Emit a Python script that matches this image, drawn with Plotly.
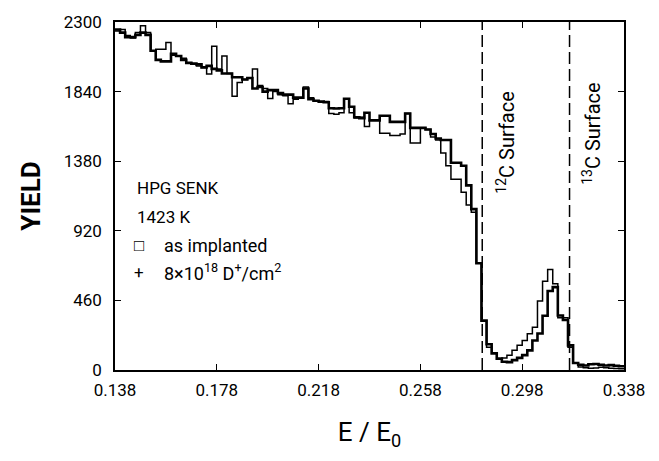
import plotly.graph_objects as go

# bin layout: 100 bins of width 0.002 from 0.138 to 0.338
x_start = 0.138
bin_width = 0.002

as_implanted = [
    2240, 2250, 2210, 2195, 2230, 2275, 2230, 2110, 2120, 2120,
    2165, 2080, 2075, 2060, 2030, 2020, 2010, 2000, 1956, 2140,
    1990, 2075, 1960, 1810, 1900, 1920, 1930, 1990, 1880, 1860,
    1795, 1840, 1820, 1812, 1760, 1790, 1800, 1870, 1800, 1780,
    1770, 1775, 1695, 1690, 1700, 1793, 1700, 1665, 1670, 1610,
    1650, 1650, 1565, 1565, 1550, 1550, 1560, 1695, 1500, 1500,
    1600, 1590, 1540, 1520, 1435, 1350, 1260, 1260, 1175, 1090,
    1043, 706, 326, 150, 110, 75, 80, 98, 130, 163,
    195, 240, 282, 456, 587, 665, 570, 346, 346, 150,
    46, 20, 15, 12, 14, 18, 15, 12, 10, 8,
]

implanted_d = [
    2250, 2230, 2200, 2200, 2215, 2230, 2215, 2110, 2050, 2040,
    2040, 2090, 2075, 2050, 2030, 2025, 2020, 2000, 2010, 1990,
    1980, 1960, 1960, 1935, 1935, 1920, 1930, 1860, 1870, 1840,
    1850, 1850, 1830, 1820, 1820, 1800, 1800, 1860, 1790, 1780,
    1775, 1770, 1730, 1728, 1730, 1793, 1740, 1670, 1665, 1700,
    1650, 1650, 1680, 1680, 1640, 1640, 1640, 1695, 1600, 1600,
    1600, 1590, 1560, 1530, 1520, 1520, 1370, 1370, 1350, 1220,
    1063, 706, 326, 170, 110, 75, 55, 52, 65, 80,
    98, 130, 195, 241, 359, 522, 548, 360, 330, 163,
    46, 35, 30, 38, 40, 35, 30, 32, 28, 25,
]

x_ticks = [0.138, 0.178, 0.218, 0.258, 0.298, 0.338]
y_ticks = [0, 460, 920, 1380, 1840, 2300]
surface_12c = 0.2823
surface_13c = 0.3166


def steps(values):
    xs = [x_start + i * bin_width for i in range(len(values) + 1)]
    ys = list(values) + [values[-1]]
    return xs, ys


fig = go.Figure()
xa, ya = steps(as_implanted)
fig.add_trace(go.Scatter(x=xa, y=ya, mode="lines", line=dict(color="black", width=1.5, shape="hv"),
                         name="as implanted", showlegend=False))
xb, yb = steps(implanted_d)
fig.add_trace(go.Scatter(x=xb, y=yb, mode="lines", line=dict(color="black", width=2.6, shape="hv"),
                         name="8x10^18 D+/cm2", showlegend=False))

for xv in (surface_12c, surface_13c):
    fig.add_shape(type="line", x0=xv, x1=xv, y0=0, y1=2300, xref="x", yref="y",
                  line=dict(color="black", width=1.5, dash="12px,5px"))

font_family = "Roboto, Liberation Sans, sans-serif"

fig.add_annotation(x=0.2915, y=1150, xref="x", yref="y", text="<sup>12</sup>C Surface",
                   textangle=-90, showarrow=False, font=dict(size=20, color="black", family=font_family),
                   yanchor="bottom")
fig.add_annotation(x=0.3254, y=1210, xref="x", yref="y", text="<sup>13</sup>C Surface",
                   textangle=-90, showarrow=False, font=dict(size=20, color="black", family=font_family),
                   yanchor="bottom")

legend_title = [(1200, "HPG SENK"), (1010, "1423 K")]
for yv, txt in legend_title:
    fig.add_annotation(x=0.146, y=yv, xref="x", yref="y", text=txt, showarrow=False, xanchor="left",
                       font=dict(size=17, color="black", family=font_family))

legend_items = [
    (825, "\u25a1", "as implanted"),
    (645, "+", "8\u00d710<sup>18</sup> D<sup>+</sup>/cm<sup>2</sup>"),
]
for yv, sym, txt in legend_items:
    fig.add_annotation(x=0.1475, y=yv, xref="x", yref="y", text=sym, showarrow=False, xanchor="center",
                       font=dict(size=17, color="black", family=font_family))
    fig.add_annotation(x=0.1565, y=yv, xref="x", yref="y", text=txt, showarrow=False, xanchor="left",
                       font=dict(size=18, color="black", family=font_family))

fig.update_layout(
    width=659, height=461,
    margin=dict(l=115, r=35, t=17, b=91),
    paper_bgcolor="white", plot_bgcolor="white",
    font=dict(family=font_family, color="black"),
    xaxis=dict(range=[0.138, 0.338], tickvals=x_ticks, ticktext=[f"{v:.3f}" for v in x_ticks],
               ticks="inside", ticklen=6, tickwidth=1.3, tickcolor="black",
               showline=True, linecolor="black", linewidth=1.5, mirror="ticks",
               showgrid=False, zeroline=False, tickfont=dict(size=17), ticklabelstandoff=4,
               title=dict(text="E / E<sub>0</sub>", font=dict(size=26), standoff=24)),
    yaxis=dict(range=[0, 2300], tickvals=y_ticks, ticks="inside", ticklen=6, tickwidth=1.3,
               tickcolor="black", showline=True, linecolor="black", linewidth=1.5, mirror="ticks",
               showgrid=False, zeroline=False, tickfont=dict(size=17), ticklabelstandoff=8,
               title=dict(text="<b>YIELD</b>", font=dict(size=26), standoff=16)),
)

fig.write_html("out.html")
